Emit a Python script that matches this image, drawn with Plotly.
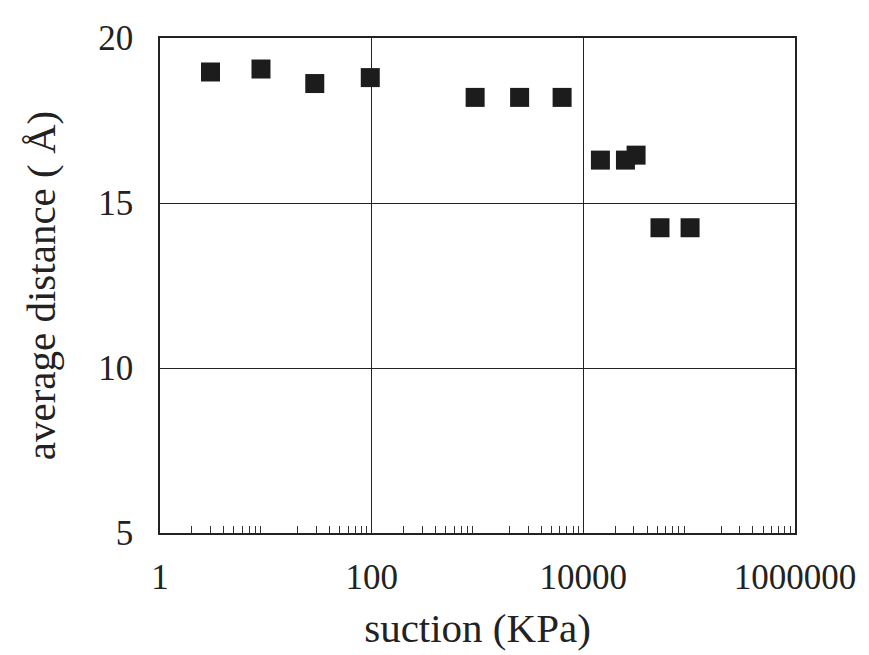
import plotly.graph_objects as go

suction = [3, 9, 29, 97, 950, 2500, 6300, 14500, 25000, 31500, 53000, 102000]
distance = [18.97, 19.06, 18.62, 18.8, 18.2, 18.2, 18.2, 16.3, 16.3, 16.45, 14.25, 14.25]

x_ticks = [1, 100, 10000, 1000000]
x_ticklabels = ["1", "100", "10000", "1000000"]
y_ticks = [5, 10, 15, 20]

minor_vals = [m * 10 ** k for k in range(6) for m in range(2, 10)]

font = "Liberation Serif"

fig = go.Figure()
fig.add_trace(go.Scatter(
    x=suction, y=distance, mode="markers",
    marker=dict(symbol="square", size=19, color="#1c1c1c", line=dict(width=0)),
    showlegend=False,
))

fig.update_layout(
    width=869, height=655,
    margin=dict(l=160, r=74, t=38, b=122),
    paper_bgcolor="white", plot_bgcolor="white",
    font=dict(family=font, color="#222", size=35),
)
fig.update_xaxes(
    type="log", range=[0, 6],
    tickmode="array", tickvals=x_ticks, ticktext=x_ticklabels,
    ticks="", ticklabelstandoff=12,
    showgrid=True, gridcolor="#222", gridwidth=1.3,
    showline=True, linecolor="#222", linewidth=1.5, mirror=True,
    zeroline=False,
    minor=dict(tickmode="array", tickvals=minor_vals, ticks="inside", ticklen=7,
               tickcolor="#333", tickwidth=1, showgrid=False),
    title=dict(text="suction (KPa)", font=dict(family=font, size=41), standoff=18),
)
fig.update_yaxes(
    range=[5, 20], tickmode="array", tickvals=y_ticks,
    ticks="", ticklabelstandoff=18,
    showgrid=True, gridcolor="#222", gridwidth=1.3,
    showline=True, linecolor="#222", linewidth=1.5, mirror=True,
    zeroline=False,
    title=dict(text="average distance ( Å)", font=dict(family=font, size=41), standoff=30),
)

fig.write_html("out.html")
